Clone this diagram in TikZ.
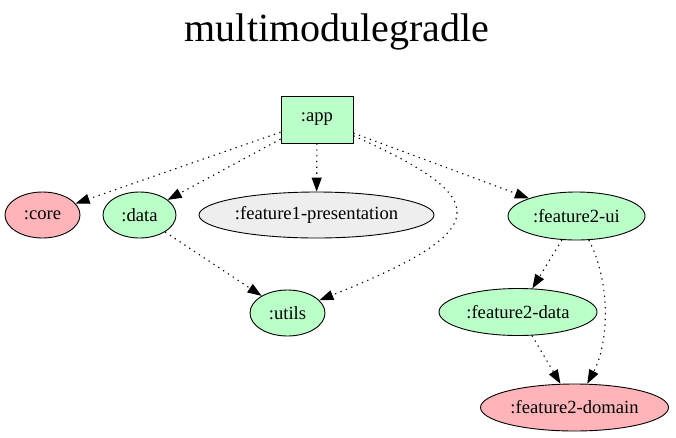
\documentclass[tikz,border=0pt]{standalone}
\usepackage{fontspec}
\setmainfont{Liberation Serif}
\usetikzlibrary{shapes.geometric,arrows.meta}
\definecolor{modgreen}{RGB}{187,255,200}
\definecolor{modpink}{RGB}{255,180,185}
\definecolor{modgray}{RGB}{238,238,238}
\begin{document}
\begin{tikzpicture}[x=1pt,y=-1pt,
        mod/.style={ellipse,draw,line width=0.9pt,inner sep=0pt,minimum height=46pt,font=\fontsize{18.6}{22}\selectfont},
        dep/.style={line width=1.1pt,dash pattern=on 1.3pt off 4.5pt,-{Triangle[length=14pt,width=10pt]}}]
\useasboundingbox (0,0) rectangle (676,437);
\node (title) at (337,32) {\fontsize{40}{46}\selectfont multimodulegradle};
\node [draw,line width=0.9pt,fill=modgreen,minimum width=72pt,minimum height=47pt,inner sep=0pt,font=\fontsize{18.6}{22}\selectfont] (app) at (317,119.5) {:app};
\node [mod,fill=modpink,minimum width=75pt] (core) at (42.5,215) {:core};
\node [mod,fill=modgreen,minimum width=73pt] (data) at (139.5,215) {:data};
\node [mod,fill=modgray,minimum width=235pt] (feature1) at (316.5,215) {:feature1-presentation};
\node [mod,fill=modgreen,minimum width=137pt,minimum height=48pt] (ui) at (576.5,216) {:feature2-ui};
\node [mod,fill=modgreen,minimum width=75pt] (utils) at (287.5,313) {:utils};
\node [mod,fill=modgreen,minimum width=158pt,minimum height=47pt] (f2data) at (518,312) {:feature2-data};
\node [mod,fill=modpink,minimum width=188pt,minimum height=47pt] (domain) at (574.5,407.5) {:feature2-domain};
\draw[dep] (app) -- (core);
\draw[dep] (app) -- (data);
\draw[dep] (app) -- (feature1);
\draw[dep] (app) .. controls (495,199) and (495,230) .. (utils);
\draw[dep] (app) -- (ui);
\draw[dep] (data) -- (utils);
\draw[dep] (ui) -- (f2data);
\draw[dep] (ui) .. controls (612,285) and (608,345) .. (domain);
\draw[dep] (f2data) -- (domain);
\end{tikzpicture}
\end{document}
